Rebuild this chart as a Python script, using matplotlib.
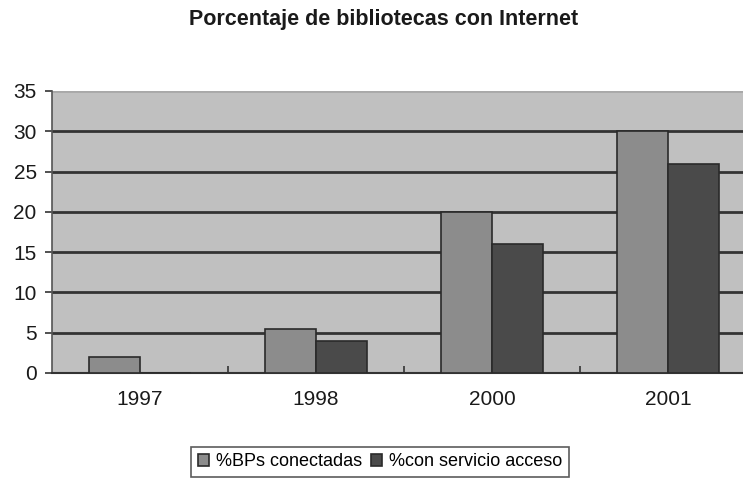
import matplotlib
matplotlib.use("Agg")
import matplotlib.pyplot as plt
import numpy as np

categories = ["1997", "1998", "2000", "2001"]
conectadas = [2, 5.5, 20, 30]
servicio = [0, 4, 16, 26]
series_names = ["%BPs conectadas", "%con servicio acceso"]
yticks = [0, 5, 10, 15, 20, 25, 30, 35]

plt.rcParams['font.family'] = ['Liberation Sans', 'DejaVu Sans']

W, H = 743, 480
fig = plt.figure(figsize=(W / 100, H / 100), dpi=100)
fig.patch.set_facecolor('white')

left, right = 52, 756
top, bottom = 91, 373
ax = fig.add_axes([left / W, 1 - bottom / H, (right - left) / W, (bottom - top) / H])
ax.set_facecolor('#c0c0c0')

x = np.arange(len(categories))
bw = 0.29
ax.bar(x - bw / 2, conectadas, bw, color='#8c8c8c', edgecolor='#2a2a2a', linewidth=1.2, zorder=3,
       label=series_names[0])
ax.bar(x + bw / 2, servicio, bw, color='#4a4a4a', edgecolor='#2a2a2a', linewidth=1.2, zorder=3,
       label=series_names[1])

ax.set_xlim(-0.5, len(categories) - 0.5)
ax.set_ylim(0, 35)
ax.set_yticks(yticks)
ax.set_yticklabels([str(v) for v in yticks], fontsize=15, color='#1a1a1a')
ax.set_xticks(x)
ax.set_xticklabels(categories, fontsize=15, color='#1a1a1a')
ax.tick_params(axis='x', length=0, pad=12)
ax.tick_params(axis='y', length=5, width=1.2, color='#333333', pad=6)
ax.set_xticks(np.arange(0.5, len(categories) - 0.5, 1.0), minor=True)
ax.tick_params(axis='x', which='minor', length=5, width=1.2, color='#333333', direction='in')

for v in yticks[1:-1]:
    ax.axhline(v, color='#333333', linewidth=2, zorder=1)
ax.axhline(yticks[-1], color='#a8a8a8', linewidth=2, zorder=1)

for s in ['top', 'right']:
    ax.spines[s].set_visible(False)
ax.spines['left'].set_color('#555555')
ax.spines['left'].set_linewidth(1.2)
ax.spines['bottom'].set_color('#333333')
ax.spines['bottom'].set_linewidth(1.5)

fig.text(384 / W, 1 - 19 / H, "Porcentaje de bibliotecas con Internet", ha='center', va='center',
         fontsize=15.5, fontweight='bold', color='#1a1a1a')

leg = fig.legend(loc='center', bbox_to_anchor=(380 / W, 1 - 462 / H), ncol=2, fontsize=13,
                 frameon=True, fancybox=False, edgecolor='#333333', handlelength=0.6,
                 handleheight=0.6, handletextpad=0.4, columnspacing=0.5, borderpad=0.35)
leg.get_frame().set_linewidth(1.2)

fig.savefig("out.png", dpi=100, facecolor='white')
